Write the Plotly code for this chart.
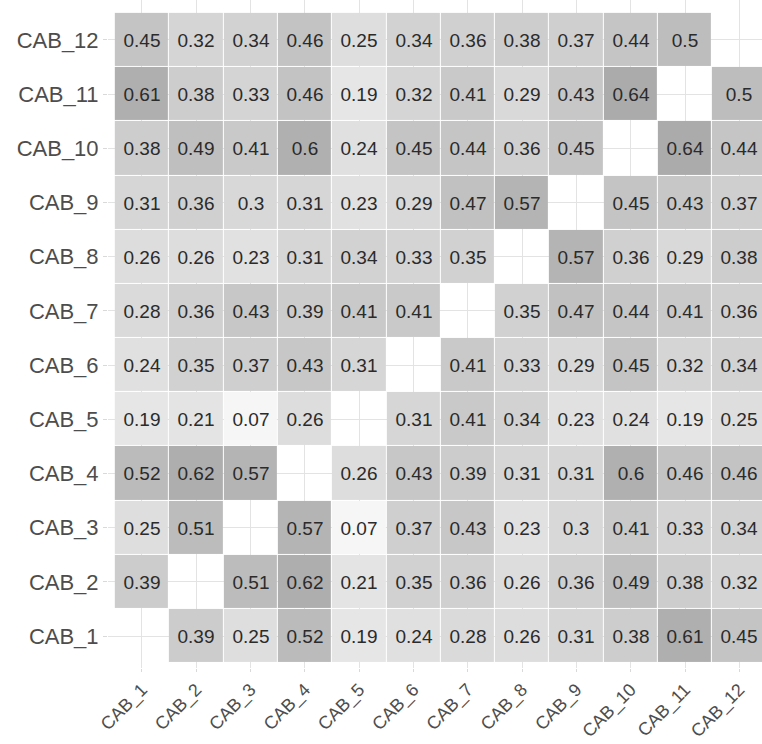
import plotly.graph_objects as go

labels = ["CAB_1", "CAB_2", "CAB_3", "CAB_4", "CAB_5", "CAB_6",
          "CAB_7", "CAB_8", "CAB_9", "CAB_10", "CAB_11", "CAB_12"]

cab_1 = [None, 0.39, 0.25, 0.52, 0.19, 0.24, 0.28, 0.26, 0.31, 0.38, 0.61, 0.45]
cab_2 = [0.39, None, 0.51, 0.62, 0.21, 0.35, 0.36, 0.26, 0.36, 0.49, 0.38, 0.32]
cab_3 = [0.25, 0.51, None, 0.57, 0.07, 0.37, 0.43, 0.23, 0.3, 0.41, 0.33, 0.34]
cab_4 = [0.52, 0.62, 0.57, None, 0.26, 0.43, 0.39, 0.31, 0.31, 0.6, 0.46, 0.46]
cab_5 = [0.19, 0.21, 0.07, 0.26, None, 0.31, 0.41, 0.34, 0.23, 0.24, 0.19, 0.25]
cab_6 = [0.24, 0.35, 0.37, 0.43, 0.31, None, 0.41, 0.33, 0.29, 0.45, 0.32, 0.34]
cab_7 = [0.28, 0.36, 0.43, 0.39, 0.41, 0.41, None, 0.35, 0.47, 0.44, 0.41, 0.36]
cab_8 = [0.26, 0.26, 0.23, 0.31, 0.34, 0.33, 0.35, None, 0.57, 0.36, 0.29, 0.38]
cab_9 = [0.31, 0.36, 0.3, 0.31, 0.23, 0.29, 0.47, 0.57, None, 0.45, 0.43, 0.37]
cab_10 = [0.38, 0.49, 0.41, 0.6, 0.24, 0.45, 0.44, 0.36, 0.45, None, 0.64, 0.44]
cab_11 = [0.61, 0.38, 0.33, 0.46, 0.19, 0.32, 0.41, 0.29, 0.43, 0.64, None, 0.5]
cab_12 = [0.45, 0.32, 0.34, 0.46, 0.25, 0.34, 0.36, 0.38, 0.37, 0.44, 0.5, None]

z = [cab_1, cab_2, cab_3, cab_4, cab_5, cab_6,
     cab_7, cab_8, cab_9, cab_10, cab_11, cab_12]
text = [["" if v is None else f"{v:g}" for v in row] for row in z]

font = "Liberation Sans, Arial, sans-serif"

fig = go.Figure(go.Heatmap(
    z=z, x=labels, y=labels, text=text,
    texttemplate="%{text}",
    textfont=dict(family=font, size=19, color="#2b2b2b"),
    colorscale=[[0, "#f6f6f6"], [1, "#ababab"]],
    zmin=0.07, zmax=0.64,
    xgap=1, ygap=1, showscale=False,
    hoverongaps=False,
))

fig.update_layout(
    width=762, height=744,
    margin=dict(l=108, r=0, t=0, b=76, autoexpand=False),
    paper_bgcolor="white", plot_bgcolor="white",
    font=dict(family=font),
)
fig.update_xaxes(
    range=[-0.626, 11.418], showgrid=True, gridcolor="#e3e3e3", gridwidth=1,
    zeroline=False, showline=False, ticks="outside", ticklen=3,
    tickcolor="#d9d9d9", tickangle=-45, automargin=False,
    tickfont=dict(family=font, size=18, color="#4d4d4d"),
)
fig.update_yaxes(
    range=[-0.59, 11.738], showgrid=True, gridcolor="#e3e3e3", gridwidth=1,
    zeroline=False, showline=False, ticks="outside", ticklen=4,
    tickcolor="#d9d9d9", automargin=False,
    tickfont=dict(family=font, size=22, color="#4d4d4d"),
)

fig.write_html(
    "out.html",
    config={"displayModeBar": False},
    post_script="document.body.style.margin='0';document.body.style.overflow='hidden';",
)
